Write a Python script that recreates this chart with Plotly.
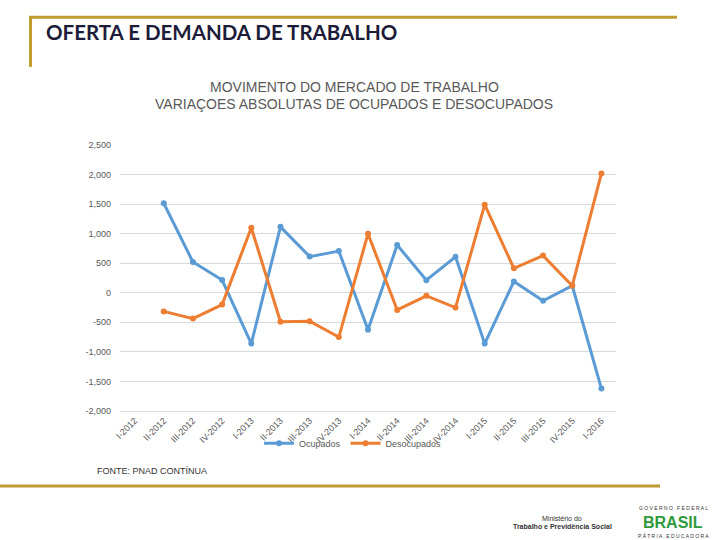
import plotly.graph_objects as go

categories = ["I-2012", "II-2012", "III-2012", "IV-2012", "I-2013", "II-2013", "III-2013", "IV-2013",
              "I-2014", "II-2014", "III-2014", "IV-2014", "I-2015", "II-2015", "III-2015", "IV-2015", "I-2016"]
ocupados = [None, 1515, 520, 215, -860, 1115, 612, 705, -625, 808, 214, 608, -860, 190, -136, 119, -1620]
desocupados = [None, -315, -437, -200, 1100, -490, -482, -750, 998, -290, -52, -250, 1490, 413, 629, 119, 2018]
y_tickvals = [-2000, -1500, -1000, -500, 0, 500, 1000, 1500, 2000, 2500]
y_ticktext = ["-2,000", "-1,500", "-1,000", "-500", "0", "500", "1,000", "1,500", "2,000", "2,500"]

W, H = 720, 540
L, R, T, B = 120, 616, 145, 410.7


def px(x):
    return (x - L) / (R - L)


def py(y):
    return (B - y) / (B - T)


BLUE = "#5B9BD5"
ORANGE = "#ED7D31"
GOLD = "#BF9B30"
GRAY = "#595959"

fig = go.Figure()
fig.add_trace(go.Scatter(x=categories, y=ocupados, name="Ocupados", mode="lines+markers",
                         line=dict(color=BLUE, width=3), marker=dict(color=BLUE, size=6)))
fig.add_trace(go.Scatter(x=categories, y=desocupados, name="Desocupados", mode="lines+markers",
                         line=dict(color=ORANGE, width=3), marker=dict(color=ORANGE, size=6)))

fig.update_layout(
    width=W, height=H,
    margin=dict(l=L, r=W - R, t=T, b=H - B),
    paper_bgcolor="white", plot_bgcolor="white",
    font=dict(family="Liberation Sans", color=GRAY),
    showlegend=True,
    legend=dict(orientation="h", x=px(353), xanchor="center", y=py(443), yanchor="middle",
                bgcolor="rgba(0,0,0,0)", font=dict(size=9, color=GRAY), itemwidth=30,
                tracegroupgap=0),
    xaxis=dict(type="category", categoryorder="array", categoryarray=categories,
               range=[-0.5, len(categories) - 0.5],
               tickangle=-45, tickfont=dict(size=9, color=GRAY), showgrid=False,
               showline=True, linecolor="#D9D9D9", linewidth=1, ticks="", zeroline=False),
    yaxis=dict(range=[-2000, 2500], tickvals=y_tickvals, ticktext=y_ticktext,
               tickfont=dict(size=9, color=GRAY), gridcolor="#D9D9D9", gridwidth=1,
               zeroline=False, showline=False, ticks="", ticklabelstandoff=8),
)

shapes = [
    dict(type="line", xref="paper", yref="paper", x0=px(29), x1=px(677), y0=py(17.5), y1=py(17.5),
         line=dict(color=GOLD, width=3)),
    dict(type="line", xref="paper", yref="paper", x0=px(30.5), x1=px(30.5), y0=py(17), y1=py(67),
         line=dict(color=GOLD, width=3)),
    dict(type="line", xref="paper", yref="paper", x0=px(0), x1=px(660), y0=py(485.5), y1=py(485.5),
         line=dict(color=GOLD, width=3)),
]
fig.update_layout(shapes=shapes)

ann = [
    dict(text="<b>OFERTA E DEMANDA DE TRABALHO</b>", x=px(44), y=py(32), xanchor="left", yanchor="middle",
         font=dict(family="Lato", size=20.5, color="#1C1C38")),
    dict(text="MOVIMENTO DO MERCADO DE TRABALHO", x=px(354), y=py(87), xanchor="center", yanchor="middle",
         font=dict(family="Liberation Sans", size=14, color=GRAY)),
    dict(text="VARIAÇOES ABSOLUTAS DE OCUPADOS E DESOCUPADOS", x=px(354), y=py(104), xanchor="center",
         yanchor="middle", font=dict(family="Liberation Sans", size=14, color=GRAY)),
    dict(text="FONTE: PNAD CONTÍNUA", x=px(95), y=py(471), xanchor="left", yanchor="middle",
         font=dict(family="Liberation Sans", size=9, color="#333333")),
    dict(text="Ministério do", x=px(562), y=py(518), xanchor="center", yanchor="middle",
         font=dict(family="Liberation Sans", size=7, color="#333333")),
    dict(text="<b>Trabalho e Previdência Social</b>", x=px(562), y=py(526.5), xanchor="center",
         yanchor="middle", font=dict(family="Liberation Sans", size=7, color="#333333")),
    dict(text="G O V E R N O   F E D E R A L", x=px(673), y=py(507.5), xanchor="center", yanchor="middle",
         font=dict(family="Liberation Sans", size=5, color="#333333")),
    dict(text="<b>BRASIL</b>", x=px(673), y=py(522), xanchor="center", yanchor="middle",
         font=dict(family="Liberation Sans", size=16, color="#2E9A3C")),
    dict(text="P Á T R I A   E D U C A D O R A", x=px(673), y=py(536), xanchor="center", yanchor="middle",
         font=dict(family="Liberation Sans", size=5, color="#333333")),
]
for a in ann:
    a.update(xref="paper", yref="paper", showarrow=False)
fig.update_layout(annotations=ann)

fig.write_html("out.html", config={"displayModeBar": False},
               post_script="document.body.style.margin='0';document.body.style.overflow='hidden';")
